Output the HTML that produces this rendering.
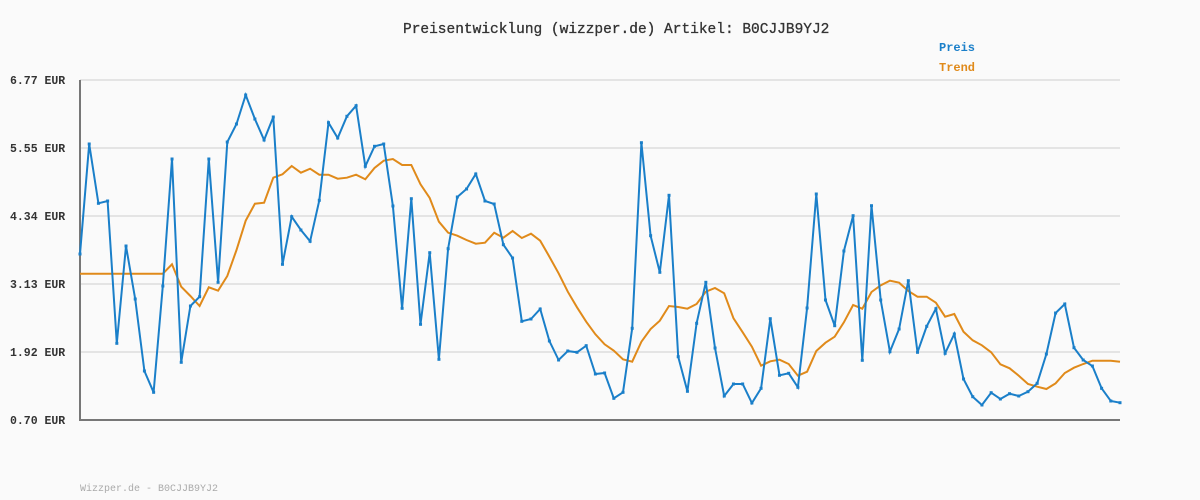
<!DOCTYPE html>
<html><head><meta charset="utf-8"><style>
html,body{margin:0;padding:0;background:#fafafa;}
svg{display:block;}
text{font-family:"Liberation Mono",monospace;}
</style></head><body>
<svg id="s" width="1200" height="500" xmlns="http://www.w3.org/2000/svg">
<rect width="1200" height="500" fill="#fafafa"/>
<g stroke="#e4e4e4" stroke-width="2">
<line x1="80" y1="80" x2="1120" y2="80"/>
<line x1="80" y1="148" x2="1120" y2="148"/>
<line x1="80" y1="216" x2="1120" y2="216"/>
<line x1="80" y1="284" x2="1120" y2="284"/>
<line x1="80" y1="352" x2="1120" y2="352"/>
</g>
<line x1="80" y1="80" x2="80" y2="421" stroke="#777" stroke-width="2"/>
<line x1="79" y1="420" x2="1120" y2="420" stroke="#777" stroke-width="2"/>
<g font-size="11.5" font-weight="bold" fill="#333">
<text x="10" y="84">6.77 EUR</text>
<text x="10" y="152">5.55 EUR</text>
<text x="10" y="220">4.34 EUR</text>
<text x="10" y="288">3.13 EUR</text>
<text x="10" y="356">1.92 EUR</text>
<text x="10" y="424">0.70 EUR</text>
</g>
<text x="403" y="33" font-size="14.5" fill="#333" stroke="#333" stroke-width="0.3">Preisentwicklung (wizzper.de) Artikel: B0CJJB9YJ2</text>
<text x="939" y="51" font-size="12" font-weight="bold" fill="#1a7fc9">Preis</text>
<text x="939" y="71" font-size="12" font-weight="bold" fill="#e08a1a">Trend</text>
<text x="80" y="491" font-size="10" fill="#aaa">Wizzper.de - B0CJJB9YJ2</text>
<polyline id="tr" fill="none" stroke="#e08a1a" stroke-width="2"/>
<polyline id="pr" fill="none" stroke="#1a7fc9" stroke-width="2"/>
<g id="mk" fill="#1a7fc9"></g>
</svg>
<script>
var b=[254,144,203.3,201,343.3,246,299,371,392.3,286,159,362.3,306,296.7,159,282.3,142,124,95,119,140,117,264.3,216.7,230,241.3,200.3,122.7,138,116.3,105.7,166.3,146.3,144,206,308.3,198.7,324.3,
252.7,359.3,248.7,197,189,174,201,204,244.7,258,321.3,319,309,341,360,351,352.3,345.7,374,373,398.3,392.3,328.3,142.7,235.7,272.3,195.3,356.7,391.3,323.3,282.3,348,396,384,384,403,388.3,318.7,375.3,
373.3,387.3,308,194,300,325.7,251,215.7,360.3,205.7,300,351.7,329,280.7,352.3,326.3,308.7,353.3,334,379,396.7,405,392.7,399,393.7,396,391.7,383.3,354,313,304,347.7,360,366,388.3,401,402.7];
var t=[273.7,273.7,273.7,273.7,273.7,273.7,273.7,273.7,273.7,273.7,264.3,286.7,296,306,287.3,290.7,276,250,220.7,203.7,202.7,177.7,174.3,166,172.7,168.7,174.7,174.7,178.7,177.7,174.7,179.3,168,160.7,159,165,165,184.3,198,221.7,232.7,235.7,240,243.7,242.7,232.7,237.7,231,238,233.7,240.7,256.7,273.3,291.7,307.3,321.7,334.3,344.3,350.7,359.3,361.7,341.7,329,320.7,306,307,308.7,304,291.7,288,293.3,318.3,332.3,346.7,365.7,361.3,359.7,364,375.7,371.7,351,342.7,336.7,322.3,305,308.7,292,285.3,280.7,282.7,291,296.7,296.7,302.7,316.7,314,331.7,340.3,345.3,352.3,364.3,368.3,375.7,384,386.7,389,383.3,373,367.7,364,360.7,360.7,360.7,361.7];
var dx=1040/113;
function pts(a){return a.map(function(y,i){return (80+i*dx).toFixed(1)+','+y;}).join(' ');}
document.getElementById('pr').setAttribute('points',pts(b));
document.getElementById('tr').setAttribute('points',pts(t));
var g=document.getElementById('mk'),h='';
b.forEach(function(y,i){var x=80+i*dx;h+='<rect x="'+(x-1.5)+'" y="'+(y-1.5)+'" width="3" height="3"/>';});
g.innerHTML=h;
</script>
</body></html>
